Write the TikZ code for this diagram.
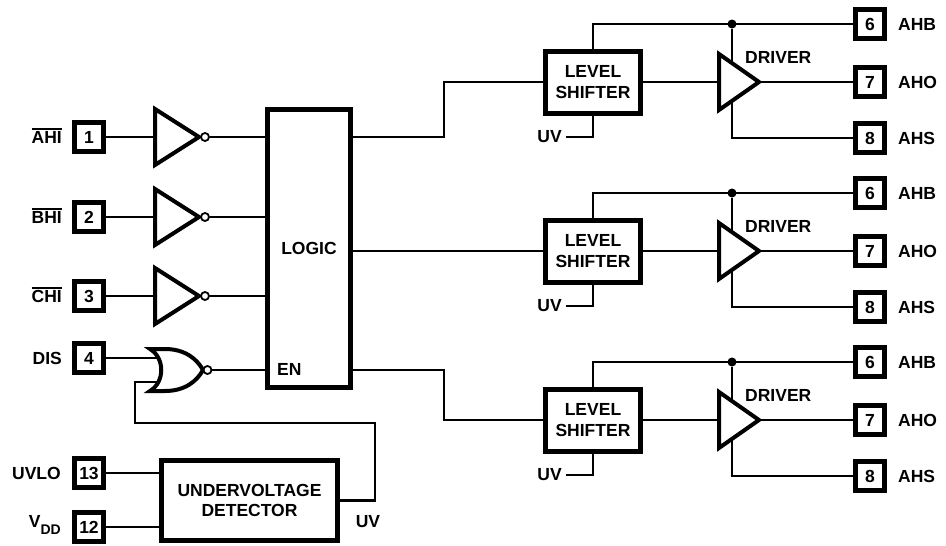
\documentclass[tikz,border=0pt]{standalone}
\usepackage{fontspec}
\setmainfont{Liberation Sans}
\usetikzlibrary{calc}

\newcommand{\ovbar}[1]{\vbox{\hrule height 1.6pt\kern 1.4pt\hbox{#1}}}

\begin{document}
\begin{tikzpicture}[x=1pt,y=-1pt,font=\fontsize{17.5}{20.5}\selectfont\bfseries]
  \tikzset{pin/.style = {draw, line width=5pt, minimum size=29pt, inner sep=0pt}}
  \tikzset{blk/.style = {draw, line width=5pt, inner sep=0pt, align=center}}
  \tikzset{txt/.style = {inner sep=0pt}}
  \tikzset{wire/.style = {line width=2.4pt}}
  \tikzset{gate/.style = {line width=4pt, fill=white, line join=miter}}
  \tikzset{bubble/.style = {circle, draw, line width=1.8pt, fill=white, inner sep=0pt, minimum size=8pt}}
  \tikzset{dot/.style = {circle, fill, inner sep=0pt, minimum size=9pt}}

  \useasboundingbox (0,0) rectangle (946,546);

  % blocks
  \node[blk, minimum width=83pt, minimum height=278pt] (logic) at (309,248.5) {LOGIC};
  \node[txt, anchor=west] (en) at (277,369) {EN};
  \node[blk, minimum width=176pt, minimum height=80pt] (uvd) at (249.5,500.5) {UNDERVOLTAGE\\DETECTOR};

  % input pins
  \foreach \n/\y in {1/137,2/217,3/296,4/358,13/473,12/527}
    \node[pin] (p\n) at (89,\y) {\n};
  \foreach \n/\s in {1/AHI,2/BHI,3/CHI}
    \node[txt, anchor=base east] (l\n) at ($(p\n)+(-27,6.3)$) {\ovbar{\s}};
  \node[txt, anchor=east] (l4) at ($(p4)+(-27,0)$) {DIS};
  \node[txt, anchor=east] (l13) at ($(p13)+(-28,0)$) {UVLO};
  \node[txt, anchor=base east] (l12) at ($(p12)+(-28,0)$) {V\raisebox{-7pt}{\fontsize{14}{14}\selectfont DD}};

  % inverters
  \foreach \n in {1,2,3} {
    \coordinate (inv\n) at ($(p\n)+(66,0)$);
    \draw[wire] (p\n) -- (inv\n);
    \draw[gate] (inv\n) ++(0,-28) -- ++(44,28) -- ++(-44,28) -- cycle;
    \node[bubble] (b\n) at ($(inv\n)+(50,0)$) {};
    \draw[wire] (b\n) -- (b\n -| logic.west);
  }

  % disable gate
  \coordinate (norA) at (160,358);
  \coordinate (norB) at (160,382);
  \draw[wire] (p4) -- (norA);
  \draw[wire] (uvd.east) -| (375,423) -| (135,382) -- (norB);
  \draw[gate] (165,349) .. controls (185,349) and (197,359) .. (203,370)
    .. controls (197,381) and (185,391) .. (165,391) -- (150,391)
    .. controls (165,382) and (165,358) .. (150,349) -- cycle;
  \node[bubble] (b4) at (207.5,370) {};
  \draw[wire] (b4) -- (b4 -| logic.west);
  \node[txt] (uvl) at (368,522) {UV};
  \draw[wire] (p13) -- (p13 -| uvd.west);
  \draw[wire] (p12) -- (p12 -| uvd.west);

  % output channels
  \foreach \k/\dy in {0/0,1/169,2/338} {
    \node[blk, minimum width=95pt, minimum height=62pt] (ls\k) at (593,{82+\dy}) {LEVEL\\SHIFTER};
    \node[pin] (ahb\k) at (870,{24+\dy}) {6};
    \node[pin] (aho\k) at (870,{82+\dy}) {7};
    \node[pin] (ahs\k) at (870,{138+\dy}) {8};
    \node[txt, anchor=west] (lb\k) at ($(ahb\k)+(28,0)$) {AHB};
    \node[txt, anchor=west] (lo\k) at ($(aho\k)+(28,0)$) {AHO};
    \node[txt, anchor=west] (lh\k) at ($(ahs\k)+(28,0)$) {AHS};
    \node[txt, anchor=west] (dl\k) at (745,{57+\dy}) {DRIVER};
    \node[txt, anchor=east, inner xsep=4pt] (uv\k) at (566,{137+\dy}) {UV};
    \coordinate (drv\k) at (719,{82+\dy});
    \coordinate (tip\k) at (759,{82+\dy});
    \node[dot] (j\k) at (732,{24+\dy}) {};
    \draw[wire] (uv\k) -| (ls\k);
    \draw[wire] (ls\k) |- (ahb\k);
    \draw[wire] (ls\k) -- (drv\k);
    \draw[wire] (j\k) |- (ahs\k);
    \draw[gate] (drv\k) ++(0,-28) -- ++(40,28) -- ++(-40,28) -- cycle;
    \draw[wire] (tip\k) -- (aho\k);
  }

  % logic to level shifters
  \draw[wire] (logic.east |- p1) -- ++(91,0) |- (ls0);
  \draw[wire] (logic.east |- ls1) -- (ls1);
  \draw[wire] (logic.east |- b4) -- ++(91,0) |- (ls2);
\end{tikzpicture}
\end{document}
